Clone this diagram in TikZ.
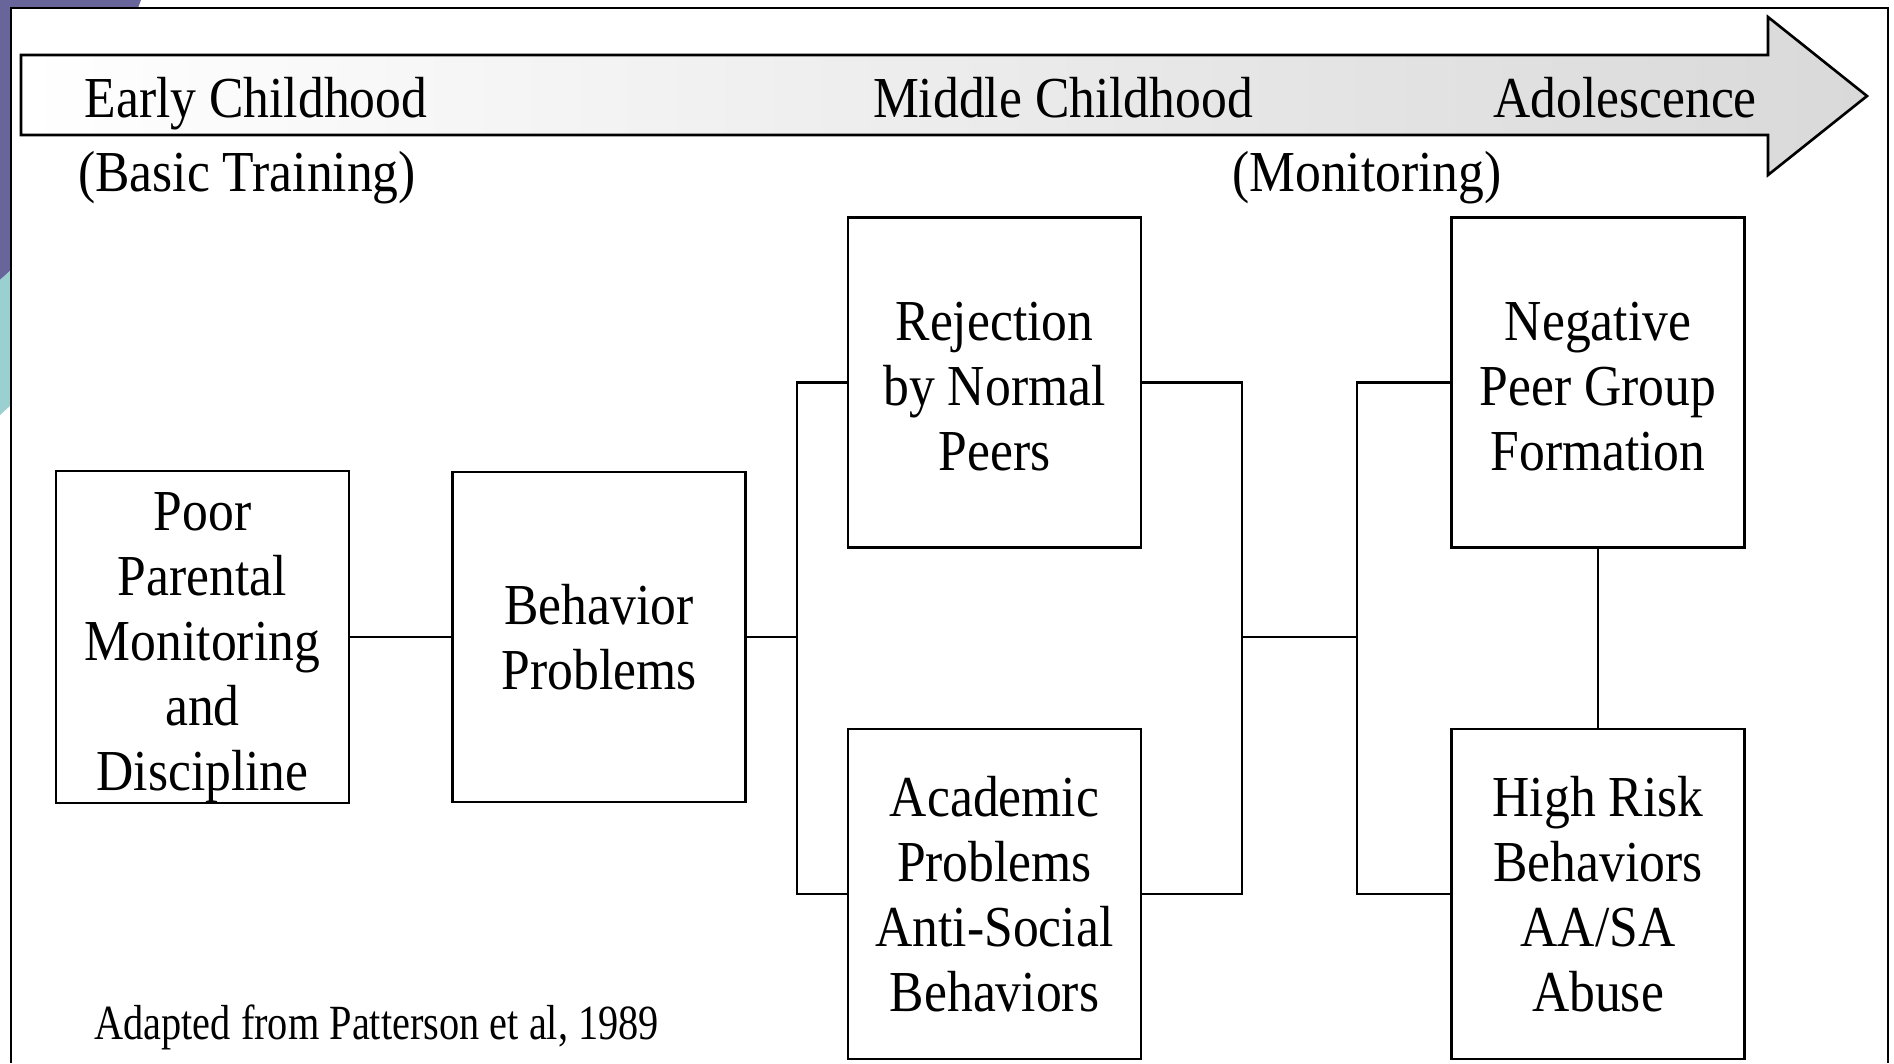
\documentclass[tikz,border=0pt]{standalone}
\usepackage{fontspec}
\setmainfont{Liberation Serif}[FakeStretch=0.89]
\newfontfamily\notefont{Liberation Serif}[FakeStretch=0.82]
\usetikzlibrary{positioning, calc}
\definecolor{slidepurple}{RGB}{103,101,154}
\definecolor{slideteal}{RGB}{155,208,208}
\definecolor{arrowgray}{RGB}{217,217,217}
\tikzset{
  stage/.style={rectangle, draw=black, line width=1.5pt, minimum width=5.86cm, minimum height=6.6cm, inner sep=0pt, align=center, font=\fontsize{33}{37}\selectfont},
  period/.style={anchor=base, inner sep=0pt, font=\fontsize{33}{37}\selectfont},
  link/.style={line width=1.5pt, color=black},
}
\begin{document}
\begin{tikzpicture}[x=0.02cm, y=-0.02cm, node distance=2.02cm]
  \useasboundingbox (0,0) rectangle (1894,1063);
  % slide decoration and frame
  \fill[slidepurple] (0,0) -- (141,0) -- (138,8) -- (11,8) -- (11,270) -- (0,280) -- cycle;
  \fill[slideteal] (0,280) -- (11,270) -- (11,405) -- (0,415) -- cycle;
  \draw[line width=1.3pt] (11,1063) -- (11,8) -- (1888,8) -- (1888,1063);
  % time arrow
  \shadedraw[left color=white, right color=arrowgray, line width=1.5pt] (21,55) -- (1768,55) -- (1768,17) -- (1867,96) -- (1768,175) -- (1768,135) -- (21,135) -- cycle;
  \node[period] (early) at (256,117) {Early Childhood};
  \node[period] (middle) at (1063,117) {Middle Childhood};
  \node[period] (adol) at (1625,117) {Adolescence};
  \node[period] (basic) at (247,191) {(Basic Training)};
  \node[period] (monitor) at (1367,191) {(Monitoring)};

  \node[stage] (poor) at (202.5,637) {\rule{0pt}{34pt}Poor\\Parental\\Monitoring\\and\\Discipline};
  \node[stage, right=of poor] (behavior) {Behavior\\Problems};
  \node[stage] (reject) at (994.5,382.5) {\rule{0pt}{26pt}Rejection\\by Normal\\Peers};
  \node[stage, below=3.58cm of reject] (academic) {Academic\\Problems\\Anti-Social\\Behaviors};
  \node[stage, right=6.16cm of reject] (negative) {\rule{0pt}{26pt}Negative\\Peer Group\\Formation};
  \node[stage, below=3.58cm of negative] (risk) {High Risk\\Behaviors\\AA/SA\\Abuse};
  \node[anchor=base west, inner sep=0pt, font=\notefont\fontsize{28}{32}\selectfont] (source) at (94,1039) {Adapted from Patterson et al, 1989};

  \coordinate (j1) at (797,637);
  \coordinate (j2) at (1242,637);
  \coordinate (j3) at (1357,637);
  \draw[link] (poor) -- (behavior);
  \draw[link] (behavior) -- (j1);
  \draw[link] (reject.west) -| (j1) |- (academic.west);
  \draw[link] (reject.east) -| (j2) |- (academic.east);
  \draw[link] (j2) -- (j3);
  \draw[link] (negative.west) -| (j3) |- (risk.west);
  \draw[link] (negative) -- (risk);
\end{tikzpicture}
\end{document}
